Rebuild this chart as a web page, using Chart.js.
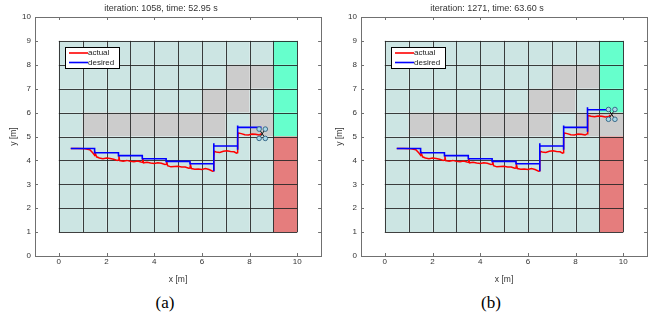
<!DOCTYPE html>
<html lang="en">
<head>
    <meta charset="UTF-8">
    <title>Quadrotor path on grid</title>
    <script src="https://cdn.jsdelivr.net/npm/chart.js"></script>
    <style>
        body { margin: 0; background: #fff; font-family: "Liberation Sans", Arial, sans-serif; }
        .row { display: flex; width: 652px; }
        .panel { width: 326px; height: 326px; position: relative; }
        .panel canvas { position: absolute; left: 0; top: 0; }
        .cap { position: absolute; top: 293px; left: 0; width: 330px; text-align: center;
               font-family: "Liberation Serif", serif; font-size: 17px; color: #000; }
    </style>
</head>
<body>
<div class="row">
    <div class="panel"><canvas id="chartA" width="326" height="285"></canvas><div class="cap">(a)</div></div>
    <div class="panel"><canvas id="chartB" width="326" height="285"></canvas><div class="cap">(b)</div></div>
</div>
<script>
// axis ticks
const xTicks = [0, 2, 4, 6, 8, 10];
const yTicks = [0, 1, 2, 3, 4, 5, 6, 7, 8, 9, 10];

// map cells, rows from y=9 down to y=1, columns x=0..10
// L free, O obstacle, G goal, R red zone
const cellsA = [
    'LLLLLLLLLG',
    'LLLLLLLOOG',
    'LLLLLLOOLG',
    'LOOOOOOLOG',
    'LLLLLLLLLR',
    'LLLLLLLLLR',
    'LLLLLLLLLR',
    'LLLLLLLLLR'
];
const cellsB = [
    'LLLLLLLLLG',
    'LLLLLLLOOG',
    'LLLLLLOOLG',
    'LOOOOOOLOO',
    'LLLLLLLLLR',
    'LLLLLLLLLR',
    'LLLLLLLLLR',
    'LLLLLLLLLR'
];

// desired path
const desiredXA = [0.5, 1.5, 1.5, 2.5, 2.5, 3.5, 3.5, 4.5, 4.5, 5.5, 5.5, 6.5, 6.5, 6.5, 6.5, 7.5, 7.5, 7.5, 7.5, 8.5];
const desiredYA = [4.5, 4.5, 4.32, 4.32, 4.2, 4.2, 4.07, 4.07, 3.96, 3.96, 3.86, 3.86, 3.55, 4.72, 4.6, 4.6, 4.45, 5.46, 5.38, 5.38];
const desiredXB = desiredXA.concat([8.5, 8.5, 8.5, 9.45]);
const desiredYB = desiredYA.concat([5.2, 6.22, 6.12, 6.12]);

// actual path
const actualXA = [0.5, 0.8, 1.1, 1.3, 1.42, 1.5, 1.53, 1.58, 1.7, 1.85, 2.0, 2.15, 2.3, 2.45, 2.5, 2.52, 2.55, 2.7, 2.85, 3.0, 3.15, 3.3, 3.45, 3.5, 3.52, 3.55, 3.7, 3.85, 4.0, 4.15, 4.3, 4.45, 4.5, 4.52, 4.56, 4.7, 4.85, 5.0, 5.15, 5.3, 5.45, 5.5, 5.52, 5.56, 5.7, 5.85, 6.0, 6.15, 6.3, 6.45, 6.5, 6.5, 6.52, 6.6, 6.75, 6.9, 7.05, 7.2, 7.35, 7.45, 7.5, 7.5, 7.52, 7.65, 7.8, 7.95, 8.1, 8.25, 8.4, 8.5];
const actualYA = [4.5, 4.5, 4.49, 4.45, 4.32, 4.22, 4.3, 4.15, 4.1, 4.07, 4.1, 4.08, 4.05, 4.0, 4.02, 4.18, 3.99, 3.97, 4.0, 3.96, 3.94, 3.97, 3.93, 3.92, 4.08, 3.9, 3.92, 3.89, 3.87, 3.9, 3.88, 3.83, 3.84, 3.98, 3.78, 3.73, 3.74, 3.75, 3.72, 3.72, 3.67, 3.68, 3.82, 3.66, 3.63, 3.64, 3.62, 3.66, 3.62, 3.55, 3.56, 4.15, 4.38, 4.35, 4.33, 4.38, 4.4, 4.37, 4.36, 4.3, 4.32, 4.9, 5.15, 5.12, 5.07, 5.06, 5.1, 5.09, 5.06, 5.12];
const actualXB = actualXA.concat([8.5, 8.52, 8.65, 8.8, 8.95, 9.1, 9.25, 9.4, 9.45]);
const actualYB = actualYA.concat([5.6, 5.88, 5.85, 5.83, 5.86, 5.85, 5.82, 5.84, 5.9]);

// quadrotor rotor positions: front-left, front-right, back-left, back-right
const quadXA = [8.40, 8.66, 8.40, 8.66];
const quadYA = [5.31, 5.31, 4.92, 4.92];
const quadXB = [9.38, 9.65, 9.38, 9.65];
const quadYB = [6.13, 6.13, 5.72, 5.72];

const titles = ['iteration: 1058, time: 52.95 s', 'iteration: 1271, time: 63.60 s'];
const legendLabels = ['actual', 'desired'];

const cellColors = { L: '#cce5e3', O: '#cccccc', G: '#66ffcc', R: '#e57d7d' };
const FONT = '"Liberation Sans", Arial, sans-serif';

function pts(xs, ys) { return xs.map((x, i) => ({ x: x, y: ys[i] })); }

const gridPlugin = {
    id: 'cells',
    beforeDatasetsDraw(chart, args, opts) {
        const { ctx, scales: { x, y } } = chart;
        const rows = opts.cells;
        ctx.save();
        rows.forEach((row, r) => {
            const yTop = 9 - r;
            for (let c = 0; c < row.length; c++) {
                const x0 = x.getPixelForValue(c), x1 = x.getPixelForValue(c + 1);
                const y0 = y.getPixelForValue(yTop), y1 = y.getPixelForValue(yTop - 1);
                ctx.fillStyle = cellColors[row[c]];
                ctx.fillRect(x0, y0, x1 - x0, y1 - y0);
            }
        });
        ctx.strokeStyle = 'rgba(30,30,30,0.85)';
        ctx.lineWidth = 1;
        ctx.beginPath();
        for (let c = 0; c <= 10; c++) {
            const px = Math.round(x.getPixelForValue(c)) + 0.5;
            ctx.moveTo(px, y.getPixelForValue(9));
            ctx.lineTo(px, y.getPixelForValue(1));
        }
        for (let v = 1; v <= 9; v++) {
            const py = Math.round(y.getPixelForValue(v)) + 0.5;
            ctx.moveTo(x.getPixelForValue(0), py);
            ctx.lineTo(x.getPixelForValue(10), py);
        }
        ctx.stroke();
        ctx.restore();
    },
    afterDraw(chart) {
        const { ctx, chartArea: a, scales: { x, y } } = chart;
        ctx.save();
        // axes box with inward ticks
        ctx.strokeStyle = '#707070';
        ctx.lineWidth = 1;
        ctx.strokeRect(Math.round(a.left) + 0.5, Math.round(a.top) + 0.5,
            Math.round(a.right - a.left), Math.round(a.bottom - a.top));
        ctx.beginPath();
        xTicks.forEach(v => {
            const px = Math.round(x.getPixelForValue(v)) + 0.5;
            ctx.moveTo(px, a.bottom); ctx.lineTo(px, a.bottom - 3);
            ctx.moveTo(px, a.top); ctx.lineTo(px, a.top + 3);
        });
        yTicks.forEach(v => {
            const py = Math.round(y.getPixelForValue(v)) + 0.5;
            ctx.moveTo(a.left, py); ctx.lineTo(a.left + 3, py);
            ctx.moveTo(a.right, py); ctx.lineTo(a.right - 3, py);
        });
        ctx.stroke();

        // legend box
        const lx = a.left + 30, ly = a.top + 30;
        ctx.fillStyle = '#fff';
        ctx.fillRect(lx, ly, 54, 21);
        ctx.strokeStyle = '#000';
        ctx.strokeRect(lx + 0.5, ly + 0.5, 54, 21);
        const cols = ['#ff0000', '#0000ff'];
        ctx.font = '8px ' + FONT;
        ctx.textBaseline = 'middle';
        legendLabels.forEach((t, i) => {
            const yy = ly + 6 + i * 9.5;
            ctx.strokeStyle = cols[i];
            ctx.lineWidth = 1.6;
            ctx.beginPath(); ctx.moveTo(lx + 4, yy); ctx.lineTo(lx + 23, yy); ctx.stroke();
            ctx.fillStyle = '#222';
            ctx.fillText(t, lx + 23, yy);
        });
        ctx.restore();
    }
};

function makeChart(id, title, cells, ax, ay, dx, dy, qx, qy) {
    const armData = [
        { x: qx[0], y: qy[0] }, { x: qx[3], y: qy[3] }, { x: qx[3], y: null },
        { x: qx[1], y: qy[1] }, { x: qx[2], y: qy[2] }
    ];
    new Chart(document.getElementById(id), {
        type: 'line',
        data: {
            datasets: [
                { label: 'actual', data: pts(ax, ay), borderColor: '#ff0000', borderWidth: 1.5, pointRadius: 0, order: 3 },
                { label: 'desired', data: pts(dx, dy), borderColor: '#0000ff', borderWidth: 1.6, pointRadius: 0, order: 2 },
                { label: 'arms', data: armData, borderColor: '#111', borderWidth: 1, pointRadius: 0, spanGaps: false, order: 1 },
                { label: 'rotors', data: pts(qx, qy), showLine: false, pointRadius: 2.3, pointBorderWidth: 0.9,
                  pointBorderColor: '#2f5f80', pointBackgroundColor: '#a8d8e8', order: 0 }
            ]
        },
        options: {
            responsive: false,
            animation: false,
            devicePixelRatio: 1,
            layout: { padding: { left: 0, right: 4, top: 0, bottom: 0 } },
            scales: {
                x: {
                    type: 'linear', min: -1, max: 11,
                    afterBuildTicks: s => { s.ticks = xTicks.map(v => ({ value: v })); },
                    afterFit: s => { s.height = 29; },
                    grid: { display: false, drawTicks: false },
                    border: { display: false },
                    ticks: { padding: 1, color: '#333', font: { family: FONT, size: 8 } },
                    title: { display: true, text: 'x [m]', color: '#333', padding: { top: 0, bottom: 0 }, font: { family: FONT, size: 8.5 } }
                },
                y: {
                    type: 'linear', min: 0, max: 10,
                    afterBuildTicks: s => { s.ticks = yTicks.map(v => ({ value: v })); },
                    afterFit: s => { s.width = 35; },
                    grid: { display: false, drawTicks: false },
                    border: { display: false },
                    ticks: { padding: 4, color: '#333', font: { family: FONT, size: 8 } },
                    title: { display: true, text: 'y [m]', color: '#333', padding: { top: 9, bottom: 0 }, font: { family: FONT, size: 8.5 } }
                }
            },
            plugins: {
                legend: { display: false },
                tooltip: { enabled: false },
                title: { display: true, text: title, color: '#333', padding: { top: 3.5, bottom: 2.7 }, font: { family: FONT, size: 9, weight: 'normal' } },
                cells: { cells: cells }
            }
        },
        plugins: [gridPlugin]
    });
}

makeChart('chartA', titles[0], cellsA, actualXA, actualYA, desiredXA, desiredYA, quadXA, quadYA);
makeChart('chartB', titles[1], cellsB, actualXB, actualYB, desiredXB, desiredYB, quadXB, quadYB);
</script>
</body>
</html>
